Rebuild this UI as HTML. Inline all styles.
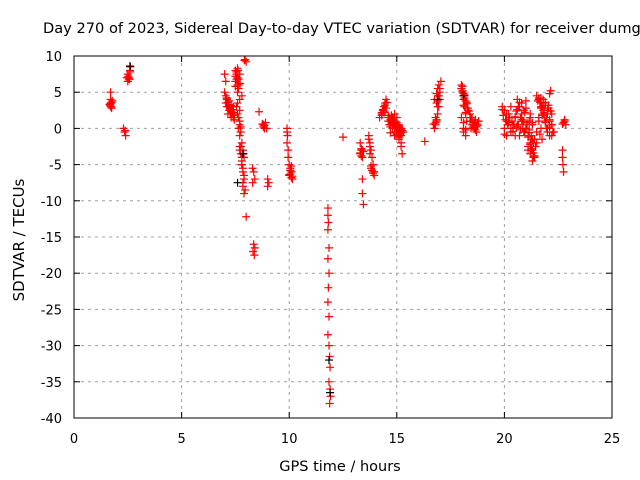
<!DOCTYPE html>
<html><head><meta charset="utf-8"><style>
body{margin:0;background:#fff}
svg{display:block;font-family:"DejaVu Sans","Liberation Sans",sans-serif}
</style></head><body>
<svg id="chart" width="640" height="480">
<text x="43" y="33" font-size="14.6">Day 270 of 2023, Sidereal Day-to-day VTEC variation (SDTVAR) for receiver dumg</text>
<g id="grid"></g>
<g id="ticks"></g>
<g id="marks"></g>
<rect x="74" y="56" width="538" height="362" fill="none" stroke="#000"/>
<text x="340" y="471" font-size="14.5" text-anchor="middle">GPS time / hours</text>
<text transform="translate(24,240) rotate(-90)" font-size="15" text-anchor="middle">SDTVAR / TECUs</text>
</svg>
<script>
const xTicks=[0,5,10,15,20,25];
const yTicks=[10,5,0,-5,-10,-15,-20,-25,-30,-35,-40];
const redHours=[1.7,1.7,1.7,1.72,1.75,1.68,1.78,1.7,
2.3,2.35,2.4,2.38,2.5,2.55,2.5,2.6,2.52,2.58,2.62,
7.0,7.05,7.0,7.1,7.05,7.15,7.2,7.1,7.25,7.3,7.2,7.3,7.35,7.4,7.45,7.4,
7.5,7.55,7.6,7.5,7.65,7.6,7.7,7.55,7.6,7.7,7.65,7.75,7.7,7.6,7.5,7.55,7.65,7.7,
7.95,8.0,7.92,
7.8,7.85,7.9,7.8,7.85,7.9,7.85,7.9,7.95,7.88,8.0,
8.3,8.35,8.4,8.3,8.35,8.4,8.32,8.38,
8.6,8.8,8.85,8.9,9.0,9.05,9.0,
9.9,9.9,9.92,9.9,9.95,9.95,10.0,10.05,10.1,10.0,10.15,10.1,10.05,10.1,
11.8,11.8,11.82,11.8,11.85,11.8,11.85,11.82,11.8,11.85,11.8,11.85,11.88,11.9,11.85,11.9,11.92,11.88,
12.5,
13.3,13.35,13.3,13.4,13.45,13.4,13.4,13.45,13.35,
13.7,13.75,13.8,13.75,13.85,13.9,13.9,13.8,13.95,
14.2,14.3,14.35,14.4,14.45,14.5,14.3,14.4,
14.6,14.7,14.8,14.9,15.0,15.1,14.7,14.8,14.9,15.0,15.1,15.2,14.9,15.0,15.1,15.2,15.3,15.0,15.1,15.2,15.25,15.2,15.25,
16.3,
16.75,16.8,16.85,16.9,16.95,17.0,16.9,17.0,16.95,17.05,16.85,16.9,
18.0,18.05,18.1,18.15,18.2,18.25,18.1,18.2,18.0,18.15,18.3,18.1,
18.4,18.5,18.6,18.7,18.8,18.5,18.6,18.7,
19.9,20.0,20.1,20.2,20.0,20.1,20.3,20.4,20.5,20.2,20.3,20.4,20.0,20.5,
20.6,20.7,20.8,20.9,21.0,20.7,20.8,20.9,20.6,20.75,20.95,21.0,
21.0,21.1,21.2,21.3,21.4,21.1,21.2,21.3,21.15,21.25,21.35,21.2,21.3,21.1,21.4,21.5,
21.5,21.6,21.7,21.8,21.9,22.0,22.1,22.2,21.7,21.8,22.0,22.1,21.6,21.9,22.2,22.3,22.15,21.75,
22.7,22.7,22.72,22.75,22.8,22.85,
7.05,7.1,7.15,7.2,7.25,7.3,7.35,7.1,7.2,7.3,7.15,7.25,7.4,7.45,7.5,7.55,7.6,7.65,7.7,7.6,7.65,7.7,7.75,7.8,7.62,7.72,
7.7,7.75,7.8,7.85,7.7,7.8,7.9,7.85,7.75,7.8,
8.75,8.8,8.85,8.95,10.05,10.1,10.0,10.15,
1.75,1.7,1.65,2.55,2.6,2.45,
13.3,13.35,13.4,13.8,13.85,13.9,13.95,13.7,13.75,
14.3,14.35,14.4,14.45,14.5,14.55,14.6,14.65,14.7,14.75,14.8,14.85,14.9,14.95,15.0,15.05,15.1,15.15,15.2,14.6,14.7,14.8,14.9,15.0,15.1,15.2,14.65,14.75,14.85,14.95,15.05,15.15,15.25,14.7,14.8,14.9,15.0,15.1,
16.8,16.85,16.9,16.95,17.0,16.7,16.8,16.9,16.75,16.85,
18.0,18.05,18.1,18.15,18.2,18.25,18.3,18.05,18.15,18.25,18.35,18.4,18.45,18.5,18.55,18.6,18.65,18.7,18.75,18.8,18.45,18.55,18.65,18.75,18.1,18.2,18.0,18.1,18.2,
19.9,19.95,20.05,20.15,20.25,20.35,20.45,20.55,20.1,20.2,20.3,20.4,20.6,20.65,20.7,20.8,20.85,20.9,20.95,21.0,21.05,20.5,20.55,20.65,20.75,20.85,
21.1,21.15,21.2,21.25,21.3,21.35,21.4,21.45,21.5,21.05,21.15,21.25,21.35,21.2,21.3,21.25,21.35,
21.55,21.6,21.65,21.7,21.75,21.8,21.85,21.9,21.95,22.0,22.05,22.1,22.15,22.2,21.6,21.7,21.8,21.9,22.0,22.1,21.65,21.75,21.85,21.95,22.05,22.25,22.2,22.1,
22.75,22.8,22.7];
const redValues=[5.0,4.0,3.5,3.0,2.8,3.2,3.8,3.4,
0.0,-0.5,-1.0,-0.3,6.5,7.0,7.5,8.0,7.2,6.8,8.5,
7.5,6.5,5.0,4.0,3.5,3.0,2.5,4.2,2.0,1.5,3.8,3.2,2.6,2.2,1.8,3.0,
8.0,7.5,7.0,6.5,6.0,5.0,4.0,3.0,2.0,1.0,0.0,-0.5,-1.0,8.3,7.2,6.8,5.5,0.5,
9.5,9.2,9.4,
-2.0,-3.0,-4.0,-5.0,-6.0,-7.0,-8.0,-9.0,-8.5,-3.5,-12.2,
-5.5,-6.0,-7.0,-7.5,-16.0,-16.5,-17.0,-17.5,
2.3,0.5,0.0,0.8,-7.0,-7.5,-8.0,
0.0,-0.5,-1.0,-2.0,-3.0,-4.0,-5.0,-5.5,-6.0,-6.5,-7.0,-5.2,-6.3,-6.8,
-11.0,-12.0,-13.0,-14.0,-16.5,-18.0,-20.0,-22.0,-24.0,-26.0,-28.5,-30.0,-31.5,-33.0,-35.0,-36.0,-37.0,-38.0,
-1.2,
-2.0,-3.0,-3.5,-4.0,-3.2,-7.0,-9.0,-10.5,-2.8,
-1.0,-2.0,-3.0,-3.5,-4.0,-5.0,-6.0,-5.5,-6.5,
1.5,2.0,2.5,3.0,3.5,4.0,1.8,2.2,
1.5,1.0,0.5,2.0,0.0,-0.5,0.2,1.2,0.8,1.5,0.5,0.0,-1.0,-0.8,0.3,-0.2,-0.5,0.8,-1.5,-2.0,-0.3,-2.5,-3.5,
-1.8,
0.0,0.5,1.0,2.0,3.0,4.0,4.5,5.0,6.0,6.5,3.5,5.5,
6.0,5.0,4.0,3.0,2.0,1.0,0.0,-1.0,5.5,4.5,2.5,-0.5,
1.0,0.5,0.0,-0.5,1.0,1.5,0.8,0.2,
3.0,2.5,2.0,1.0,0.0,-1.0,-0.5,0.5,1.5,2.0,3.0,0.0,-0.8,-1.0,
4.0,3.0,2.0,1.0,0.0,-1.0,3.5,2.5,0.5,1.5,-0.5,3.8,
0.0,-1.0,-2.0,-3.0,-4.0,-2.5,-3.5,-4.5,1.0,-1.5,-2.0,2.0,0.5,-3.0,-1.5,-0.5,
4.5,4.0,3.0,2.0,1.0,0.0,-1.0,2.0,4.2,3.5,2.5,4.8,1.5,3.2,0.5,-0.5,5.2,-1.5,
-3.0,-4.0,-5.0,-6.0,1.0,0.5,
4.5,4.2,3.6,3.3,2.8,2.3,2.0,3.0,3.1,2.4,2.0,2.8,1.5,1.2,5.8,7.8,6.0,6.8,7.5,3.5,1.5,2.5,0.2,4.5,8.0,6.2,
-2.5,-3.5,-4.5,-5.5,-3.0,-4.0,-6.5,-7.5,-2.5,-5.0,
0.6,0.2,0.4,0.0,-5.8,-6.0,-6.4,-6.6,
3.6,3.0,3.3,6.8,7.8,7.0,
-3.4,-3.8,-3.0,-5.2,-5.8,-6.2,-6.0,-1.5,-2.5,
2.2,2.6,2.4,3.2,2.8,3.6,1.8,1.5,1.2,1.0,0.8,0.6,0.4,0.2,0.0,-0.2,-0.5,-0.8,-1.0,1.0,0.5,0.0,-0.5,-0.8,-1.2,-0.6,0.5,1.8,1.2,0.8,0.3,0.0,-0.3,-0.6,1.5,1.0,0.2,0.0,
0.8,1.2,3.8,4.5,5.5,0.6,1.5,3.0,4.0,4.8,
5.5,5.2,4.8,4.2,3.8,3.4,2.8,5.8,4.6,3.6,2.4,2.0,1.5,1.0,0.5,0.8,1.2,0.2,0.6,1.0,0.0,0.2,-0.2,0.4,3.2,2.2,1.5,0.8,-0.2,
2.6,1.8,1.2,0.5,1.5,1.0,0.5,0.2,1.0,0.8,0.0,-0.4,2.6,3.0,3.6,1.2,0.0,-0.5,2.2,2.8,0.8,1.6,2.4,0.5,-0.2,1.0,
-1.2,-0.6,-2.2,-2.8,-1.5,-3.4,-3.8,-2.5,-2.0,0.5,-0.2,-1.0,-2.0,1.5,0.8,-3.0,-4.0,
3.8,4.2,3.6,2.8,3.0,4.0,2.2,3.6,1.5,2.0,3.2,1.0,2.4,0.5,1.0,0.0,2.5,0.8,-0.5,0.2,-0.8,1.8,1.5,0.0,2.8,-0.5,-1.0,1.2,
0.8,1.2,0.6];
const blackHours=[2.6,7.6,7.85,11.85,11.9,16.9,18.1];
const blackValues=[8.6,-7.5,-3.5,-32.0,-36.5,4.0,4.5];

const NS='http://www.w3.org/2000/svg';
const X0=74,X1=612,Y0=418,Y1=56;
const xScale=h=>X0+(h-0)/(25-0)*(X1-X0);
const yScale=v=>Y0-(v-(-40))/(10-(-40))*(Y0-Y1);
const grid=document.getElementById('grid'),ticks=document.getElementById('ticks'),marks=document.getElementById('marks');
function mk(tag,attrs,parent){const e=document.createElementNS(NS,tag);for(const k in attrs)e.setAttribute(k,attrs[k]);parent.appendChild(e);return e;}
xTicks.forEach(t=>{const x=xScale(t);
 if(t>0&&t<25){const g=mk('line',{x1:x,x2:x,y1:Y1,y2:Y0,stroke:'#a0a0a0','stroke-dasharray':'3,4'},grid);
 
 }
 mk('line',{x1:x,x2:x,y1:Y0,y2:Y0-6,stroke:'#000'},ticks);
 mk('line',{x1:x,x2:x,y1:Y1,y2:Y1+6,stroke:'#000'},ticks);
 const l=mk('text',{x:x,y:443,'font-size':13,'text-anchor':'middle'},ticks);l.textContent=t;
 
 });
yTicks.forEach(t=>{const y=yScale(t);
 if(t<10&&t>-40){const g=mk('line',{x1:X0,x2:X1,y1:y,y2:y,stroke:'#a0a0a0','stroke-dasharray':'3,4'},grid);
 
 }
 mk('line',{x1:X0,x2:X0+6,y1:y,y2:y,stroke:'#000'},ticks);
 mk('line',{x1:X1,x2:X1-6,y1:y,y2:y,stroke:'#000'},ticks);
 const l=mk('text',{x:62,y:y+5,'font-size':13,'text-anchor':'end'},ticks);l.textContent=t;
 
 });
function plus(h,v,color,name){const x=xScale(h),y=yScale(v);
 const p=mk('path',{d:`M${x-4},${y}H${x+4}M${x},${y-4}V${y+4}`,stroke:color,'stroke-width':1.2,fill:'none'},marks);
 
 }
redHours.forEach((h,i)=>plus(h,redValues[i],'#ff0000','sdtvar-point'));
blackHours.forEach((h,i)=>plus(h,blackValues[i],'#000000','sdtvar-point-dark'));
</script>
</body></html>
